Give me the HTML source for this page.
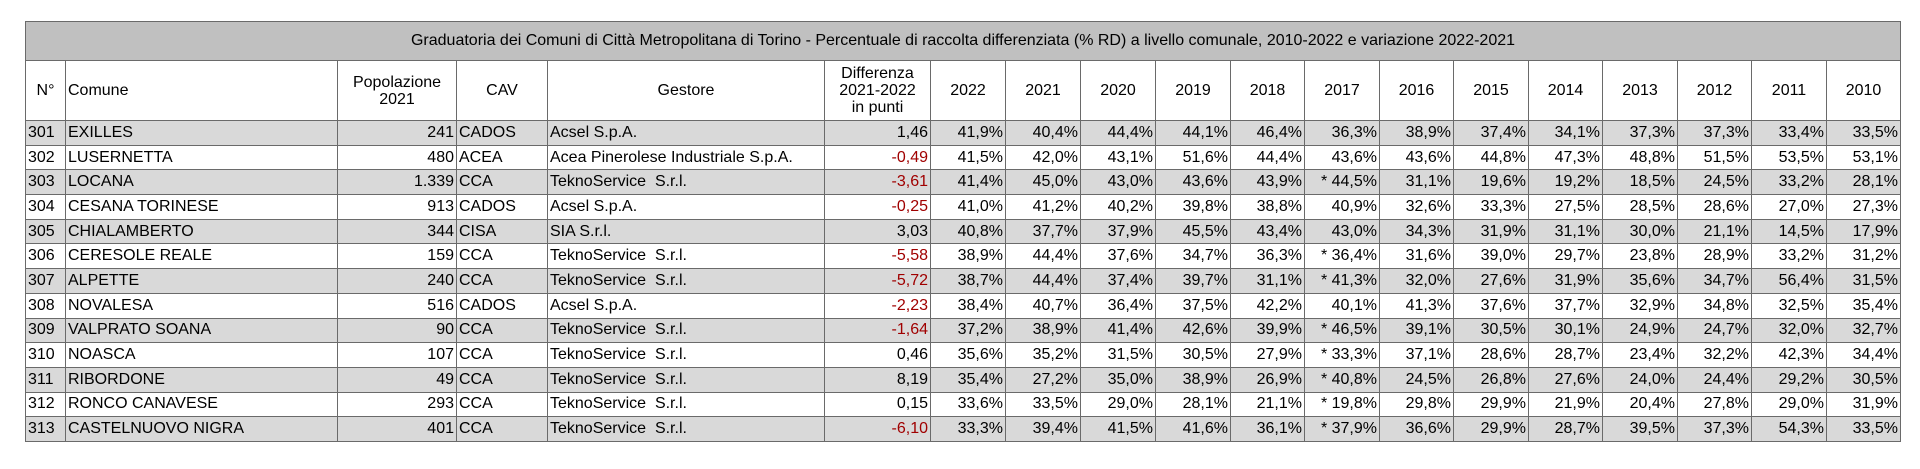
<!DOCTYPE html>
<html><head><meta charset="utf-8"><style>
body{margin:0;background:#fff;width:1920px;height:469px;overflow:hidden}
table{position:absolute;left:25px;top:21px;border-collapse:collapse;table-layout:fixed;font-family:"Liberation Sans",Arial,sans-serif;font-size:16px;color:#000}
td,th{border:1.5px solid #6a6a6a;padding:0 2px;white-space:nowrap;overflow:hidden;font-weight:normal}
.t td{background:#c0c0c0;height:38px;text-align:center;font-size:16px}
.h th{height:59px;background:#fff;text-align:center;line-height:17px}
tr.d td{height:23.7px;line-height:20px;text-align:right}
tr.g td{background:#d9d9d9}
tr.d td.l{text-align:left}
.n{color:#a00000}
</style></head><body>
<table>
<colgroup><col style="width:40px"><col style="width:272px"><col style="width:119px"><col style="width:91px"><col style="width:277px"><col style="width:106px">
<col style="width:75px"><col style="width:75px"><col style="width:75px"><col style="width:75px"><col style="width:74px"><col style="width:75px"><col style="width:74px"><col style="width:75px"><col style="width:74px"><col style="width:75px"><col style="width:74px"><col style="width:75px"><col style="width:74px"></colgroup>
<tr class="t"><td colspan="19">Graduatoria dei Comuni di Città Metropolitana di Torino - Percentuale di raccolta differenziata (% RD) a livello comunale, 2010-2022 e variazione 2022-2021</td></tr>
<tr class="h"><th>N°</th><th style="text-align:left">Comune</th><th>Popolazione<br>2021</th><th>CAV</th><th>Gestore</th><th>Differenza<br>2021-2022<br>in punti</th><th>2022</th><th>2021</th><th>2020</th><th>2019</th><th>2018</th><th>2017</th><th>2016</th><th>2015</th><th>2014</th><th>2013</th><th>2012</th><th>2011</th><th>2010</th></tr>
<tr class="d g"><td class="l">301</td><td class="l">EXILLES</td><td>241</td><td class="l">CADOS</td><td class="l">Acsel S.p.A.</td><td>1,46</td><td>41,9%</td><td>40,4%</td><td>44,4%</td><td>44,1%</td><td>46,4%</td><td>36,3%</td><td>38,9%</td><td>37,4%</td><td>34,1%</td><td>37,3%</td><td>37,3%</td><td>33,4%</td><td>33,5%</td></tr>
<tr class="d"><td class="l">302</td><td class="l">LUSERNETTA</td><td>480</td><td class="l">ACEA</td><td class="l">Acea Pinerolese Industriale S.p.A.</td><td class="n">-0,49</td><td>41,5%</td><td>42,0%</td><td>43,1%</td><td>51,6%</td><td>44,4%</td><td>43,6%</td><td>43,6%</td><td>44,8%</td><td>47,3%</td><td>48,8%</td><td>51,5%</td><td>53,5%</td><td>53,1%</td></tr>
<tr class="d g"><td class="l">303</td><td class="l">LOCANA</td><td>1.339</td><td class="l">CCA</td><td class="l">TeknoService&nbsp; S.r.l.</td><td class="n">-3,61</td><td>41,4%</td><td>45,0%</td><td>43,0%</td><td>43,6%</td><td>43,9%</td><td>* 44,5%</td><td>31,1%</td><td>19,6%</td><td>19,2%</td><td>18,5%</td><td>24,5%</td><td>33,2%</td><td>28,1%</td></tr>
<tr class="d"><td class="l">304</td><td class="l">CESANA TORINESE</td><td>913</td><td class="l">CADOS</td><td class="l">Acsel S.p.A.</td><td class="n">-0,25</td><td>41,0%</td><td>41,2%</td><td>40,2%</td><td>39,8%</td><td>38,8%</td><td>40,9%</td><td>32,6%</td><td>33,3%</td><td>27,5%</td><td>28,5%</td><td>28,6%</td><td>27,0%</td><td>27,3%</td></tr>
<tr class="d g"><td class="l">305</td><td class="l">CHIALAMBERTO</td><td>344</td><td class="l">CISA</td><td class="l">SIA S.r.l.</td><td>3,03</td><td>40,8%</td><td>37,7%</td><td>37,9%</td><td>45,5%</td><td>43,4%</td><td>43,0%</td><td>34,3%</td><td>31,9%</td><td>31,1%</td><td>30,0%</td><td>21,1%</td><td>14,5%</td><td>17,9%</td></tr>
<tr class="d"><td class="l">306</td><td class="l">CERESOLE REALE</td><td>159</td><td class="l">CCA</td><td class="l">TeknoService&nbsp; S.r.l.</td><td class="n">-5,58</td><td>38,9%</td><td>44,4%</td><td>37,6%</td><td>34,7%</td><td>36,3%</td><td>* 36,4%</td><td>31,6%</td><td>39,0%</td><td>29,7%</td><td>23,8%</td><td>28,9%</td><td>33,2%</td><td>31,2%</td></tr>
<tr class="d g"><td class="l">307</td><td class="l">ALPETTE</td><td>240</td><td class="l">CCA</td><td class="l">TeknoService&nbsp; S.r.l.</td><td class="n">-5,72</td><td>38,7%</td><td>44,4%</td><td>37,4%</td><td>39,7%</td><td>31,1%</td><td>* 41,3%</td><td>32,0%</td><td>27,6%</td><td>31,9%</td><td>35,6%</td><td>34,7%</td><td>56,4%</td><td>31,5%</td></tr>
<tr class="d"><td class="l">308</td><td class="l">NOVALESA</td><td>516</td><td class="l">CADOS</td><td class="l">Acsel S.p.A.</td><td class="n">-2,23</td><td>38,4%</td><td>40,7%</td><td>36,4%</td><td>37,5%</td><td>42,2%</td><td>40,1%</td><td>41,3%</td><td>37,6%</td><td>37,7%</td><td>32,9%</td><td>34,8%</td><td>32,5%</td><td>35,4%</td></tr>
<tr class="d g"><td class="l">309</td><td class="l">VALPRATO SOANA</td><td>90</td><td class="l">CCA</td><td class="l">TeknoService&nbsp; S.r.l.</td><td class="n">-1,64</td><td>37,2%</td><td>38,9%</td><td>41,4%</td><td>42,6%</td><td>39,9%</td><td>* 46,5%</td><td>39,1%</td><td>30,5%</td><td>30,1%</td><td>24,9%</td><td>24,7%</td><td>32,0%</td><td>32,7%</td></tr>
<tr class="d"><td class="l">310</td><td class="l">NOASCA</td><td>107</td><td class="l">CCA</td><td class="l">TeknoService&nbsp; S.r.l.</td><td>0,46</td><td>35,6%</td><td>35,2%</td><td>31,5%</td><td>30,5%</td><td>27,9%</td><td>* 33,3%</td><td>37,1%</td><td>28,6%</td><td>28,7%</td><td>23,4%</td><td>32,2%</td><td>42,3%</td><td>34,4%</td></tr>
<tr class="d g"><td class="l">311</td><td class="l">RIBORDONE</td><td>49</td><td class="l">CCA</td><td class="l">TeknoService&nbsp; S.r.l.</td><td>8,19</td><td>35,4%</td><td>27,2%</td><td>35,0%</td><td>38,9%</td><td>26,9%</td><td>* 40,8%</td><td>24,5%</td><td>26,8%</td><td>27,6%</td><td>24,0%</td><td>24,4%</td><td>29,2%</td><td>30,5%</td></tr>
<tr class="d"><td class="l">312</td><td class="l">RONCO CANAVESE</td><td>293</td><td class="l">CCA</td><td class="l">TeknoService&nbsp; S.r.l.</td><td>0,15</td><td>33,6%</td><td>33,5%</td><td>29,0%</td><td>28,1%</td><td>21,1%</td><td>* 19,8%</td><td>29,8%</td><td>29,9%</td><td>21,9%</td><td>20,4%</td><td>27,8%</td><td>29,0%</td><td>31,9%</td></tr>
<tr class="d g"><td class="l">313</td><td class="l">CASTELNUOVO NIGRA</td><td>401</td><td class="l">CCA</td><td class="l">TeknoService&nbsp; S.r.l.</td><td class="n">-6,10</td><td>33,3%</td><td>39,4%</td><td>41,5%</td><td>41,6%</td><td>36,1%</td><td>* 37,9%</td><td>36,6%</td><td>29,9%</td><td>28,7%</td><td>39,5%</td><td>37,3%</td><td>54,3%</td><td>33,5%</td></tr>
</table>
</body></html>
